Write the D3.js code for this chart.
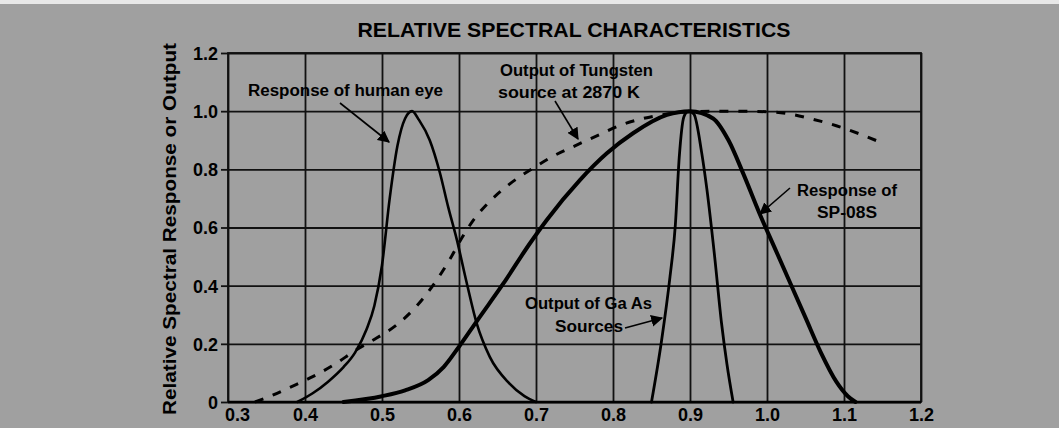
<!DOCTYPE html>
<html><head><meta charset="utf-8">
<script src="https://cdn.jsdelivr.net/npm/d3@7"></script>
<style>html,body{margin:0;padding:0;background:#a0a0a0;}svg{display:block;}</style>
</head><body><svg id="chart" width="1059" height="428"></svg>
<script>
// ---- data ----
const titleText = "RELATIVE SPECTRAL CHARACTERISTICS";
const yAxisTitle = "Relative Spectral Response or Output";
const xTickValues = [0.3,0.4,0.5,0.6,0.7,0.8,0.9,1.0,1.1,1.2];
const xTickLabels = ["0.3","0.4","0.5","0.6","0.7","0.8","0.9","1.0","1.1","1.2"];
const yTickValues = [0,0.2,0.4,0.6,0.8,1.0,1.2];
const yTickLabels = ["0","0.2","0.4","0.6","0.8","1.0","1.2"];

const eyeWavelength = [0.39,0.41,0.43,0.45,0.465,0.48,0.49,0.50,0.51,0.52,0.53,0.539,0.548,0.562,0.575,0.586,0.597,0.61,0.623,0.64,0.665,0.685,0.70];
const eyeResponse   = [0,0.03,0.07,0.12,0.17,0.25,0.33,0.47,0.70,0.88,0.975,1.0,0.97,0.90,0.79,0.67,0.56,0.41,0.27,0.155,0.065,0.02,0];

const tungstenWavelength = [0.335,0.355,0.38,0.41,0.437,0.467,0.493,0.519,0.545,0.566,0.588,0.605,0.62,0.64,0.666,0.70,0.722,0.75,0.783,0.81,0.835,0.87,0.9,0.95,1.0,1.03,1.06,1.09,1.12,1.15];
const tungstenOutput     = [0,0.02,0.05,0.087,0.127,0.18,0.22,0.265,0.33,0.40,0.49,0.57,0.63,0.69,0.75,0.81,0.845,0.88,0.92,0.952,0.972,0.99,0.998,1.0,0.998,0.99,0.972,0.95,0.922,0.89];

const spWavelength = [0.45,0.50,0.53,0.56,0.58,0.60,0.625,0.657,0.692,0.714,0.757,0.792,0.826,0.87,0.9,0.93,0.95,0.97,0.99,1.01,1.03,1.05,1.07,1.09,1.105,1.115];
const spResponse   = [0,0.02,0.04,0.075,0.12,0.19,0.285,0.405,0.545,0.626,0.763,0.855,0.924,0.987,1.0,0.975,0.90,0.78,0.65,0.53,0.41,0.29,0.17,0.07,0.02,0];

const gaasWavelength = [0.85,0.863,0.874,0.881,0.886,0.892,0.898,0.905,0.915,0.922,0.932,0.941,0.948,0.956];
const gaasOutput     = [0,0.21,0.43,0.61,0.84,0.98,1.0,0.99,0.86,0.73,0.5,0.27,0.13,0];

const annotationLines = [
  ["Response of human eye"],
  ["Output of Tungsten","source at 2870 K"],
  ["Response of","SP-08S"],
  ["Output of Ga As","Sources"]
];

// ---- drawing ----
const svg = d3.select("#chart");
const W = 1059, H = 428;
const plot = {left:228, right:921, top:53, bottom:402};
const x = d3.scaleLinear().domain([0.3,1.2]).range([plot.left, plot.right]);
const y = d3.scaleLinear().domain([0,1.2]).range([plot.bottom, plot.top]);
const FONT = "'Liberation Sans', Arial, Helvetica, sans-serif";

svg.append("rect").attr("width",W).attr("height",H).attr("fill","#a0a0a0");
svg.append("rect").attr("width",W).attr("height",4).attr("fill","#e8e8e8");

const defs = svg.append("defs");
defs.append("marker").attr("id","arrow").attr("viewBox","0 0 10 10")
  .attr("refX",9).attr("refY",5).attr("markerWidth",12).attr("markerHeight",12)
  .attr("markerUnits","userSpaceOnUse").attr("orient","auto")
  .append("path").attr("d","M0,0 L10,5 L0,10 Z").attr("fill","#000");

// grid
const gridY = svg.append("g").attr("transform",`translate(${plot.left},0)`)
  .call(d3.axisLeft(y).tickValues(yTickValues).tickSize(-(plot.right-plot.left)).tickFormat(""));
const gridX = svg.append("g").attr("transform",`translate(0,${plot.bottom})`)
  .call(d3.axisBottom(x).tickValues(xTickValues).tickSize(-(plot.bottom-plot.top)).tickFormat(""));
[gridY,gridX].forEach(g=>{
  g.select(".domain").remove();
  g.selectAll("line").attr("stroke","#111").attr("stroke-width",1.8);
});

// border
svg.append("rect").attr("x",plot.left).attr("y",plot.top)
  .attr("width",plot.right-plot.left).attr("height",plot.bottom-plot.top)
  .attr("fill","none").attr("stroke","#111").attr("stroke-width",1.8);
svg.append("line").attr("x1",plot.left).attr("x2",plot.right).attr("y1",plot.bottom).attr("y2",plot.bottom)
  .attr("stroke","#000").attr("stroke-width",2.4);

// y axis ticks + labels
const yAxis = svg.append("g").attr("transform",`translate(${plot.left},0)`)
  .call(d3.axisLeft(y).tickValues(yTickValues).tickSize(7).tickPadding(3)
    .tickFormat((d,i)=>yTickLabels[i]));
yAxis.select(".domain").remove();
yAxis.selectAll("line").attr("stroke","#111").attr("stroke-width",1.8);
yAxis.selectAll("text").attr("font-family",FONT).attr("font-weight","bold")
  .attr("font-size",18).attr("fill","#000").attr("dy","0.36em");

// x axis labels
const xAxis = svg.append("g").attr("transform",`translate(0,${plot.bottom})`)
  .call(d3.axisBottom(x).tickValues(xTickValues).tickSize(0).tickPadding(6)
    .tickFormat((d,i)=>xTickLabels[i]));
xAxis.select(".domain").remove();
xAxis.selectAll("text").attr("font-family",FONT).attr("font-weight","bold")
  .attr("font-size",18).attr("fill","#000")
  .attr("dx",(d,i)=>i===0?9:0);

// curves
const line = d3.line().x(d=>x(d[0])).y(d=>y(d[1])).curve(d3.curveMonotoneX);
const zip = (a,b)=>a.map((v,i)=>[v,b[i]]);
const curves = svg.append("g").attr("fill","none").attr("stroke","#000")
  .attr("stroke-linejoin","round").attr("stroke-linecap","round");
curves.append("path").attr("d",line(zip(tungstenWavelength,tungstenOutput)))
  .attr("stroke-width",3).attr("stroke-dasharray","9,10").attr("stroke-linecap","butt");
curves.append("path").attr("d",line(zip(eyeWavelength,eyeResponse))).attr("stroke-width",2.6);
curves.append("path").attr("d",line(zip(gaasWavelength,gaasOutput))).attr("stroke-width",2.8);
curves.append("path").attr("d",line(zip(spWavelength,spResponse))).attr("stroke-width",4);

// title
svg.append("text").attr("x",574).attr("y",37).attr("text-anchor","middle")
  .attr("font-family",FONT).attr("font-weight","bold").attr("font-size",21)
  .attr("textLength",433).attr("lengthAdjust","spacingAndGlyphs")
  .attr("fill","#000").text(titleText);

// y title
svg.append("text").attr("transform","translate(176,229) rotate(-90)")
  .attr("text-anchor","middle").attr("font-family",FONT).attr("font-weight","bold")
  .attr("font-size",18).attr("textLength",372).attr("lengthAdjust","spacingAndGlyphs")
  .attr("fill","#000").text(yAxisTitle);

// annotations
const annPos = [
  {lines:[{x:248,y:96,w:195}]},
  {lines:[{x:500,y:76,w:153},{x:498,y:98,w:142}]},
  {lines:[{x:797,y:196,w:100},{x:817,y:218,w:60}]},
  {lines:[{x:525,y:309,w:127},{x:555,y:332,w:68}]}
];
annotationLines.forEach((ls,i)=>{
  ls.forEach((t,j)=>{
    const p = annPos[i].lines[j];
    svg.append("text").attr("x",p.x).attr("y",p.y)
      .attr("font-family",FONT).attr("font-weight","bold").attr("font-size",16)
      .attr("textLength",p.w).attr("lengthAdjust","spacingAndGlyphs")
      .attr("fill","#000").text(t);
  });
});
const arrows = [[340,103,389,142],[555,101,578,139],[790,188,760,214],[625,328,662,318]];
arrows.forEach(a=>{
  svg.append("line").attr("x1",a[0]).attr("y1",a[1]).attr("x2",a[2]).attr("y2",a[3])
    .attr("stroke","#000").attr("stroke-width",1.6).attr("marker-end","url(#arrow)");
});
</script></body></html>
